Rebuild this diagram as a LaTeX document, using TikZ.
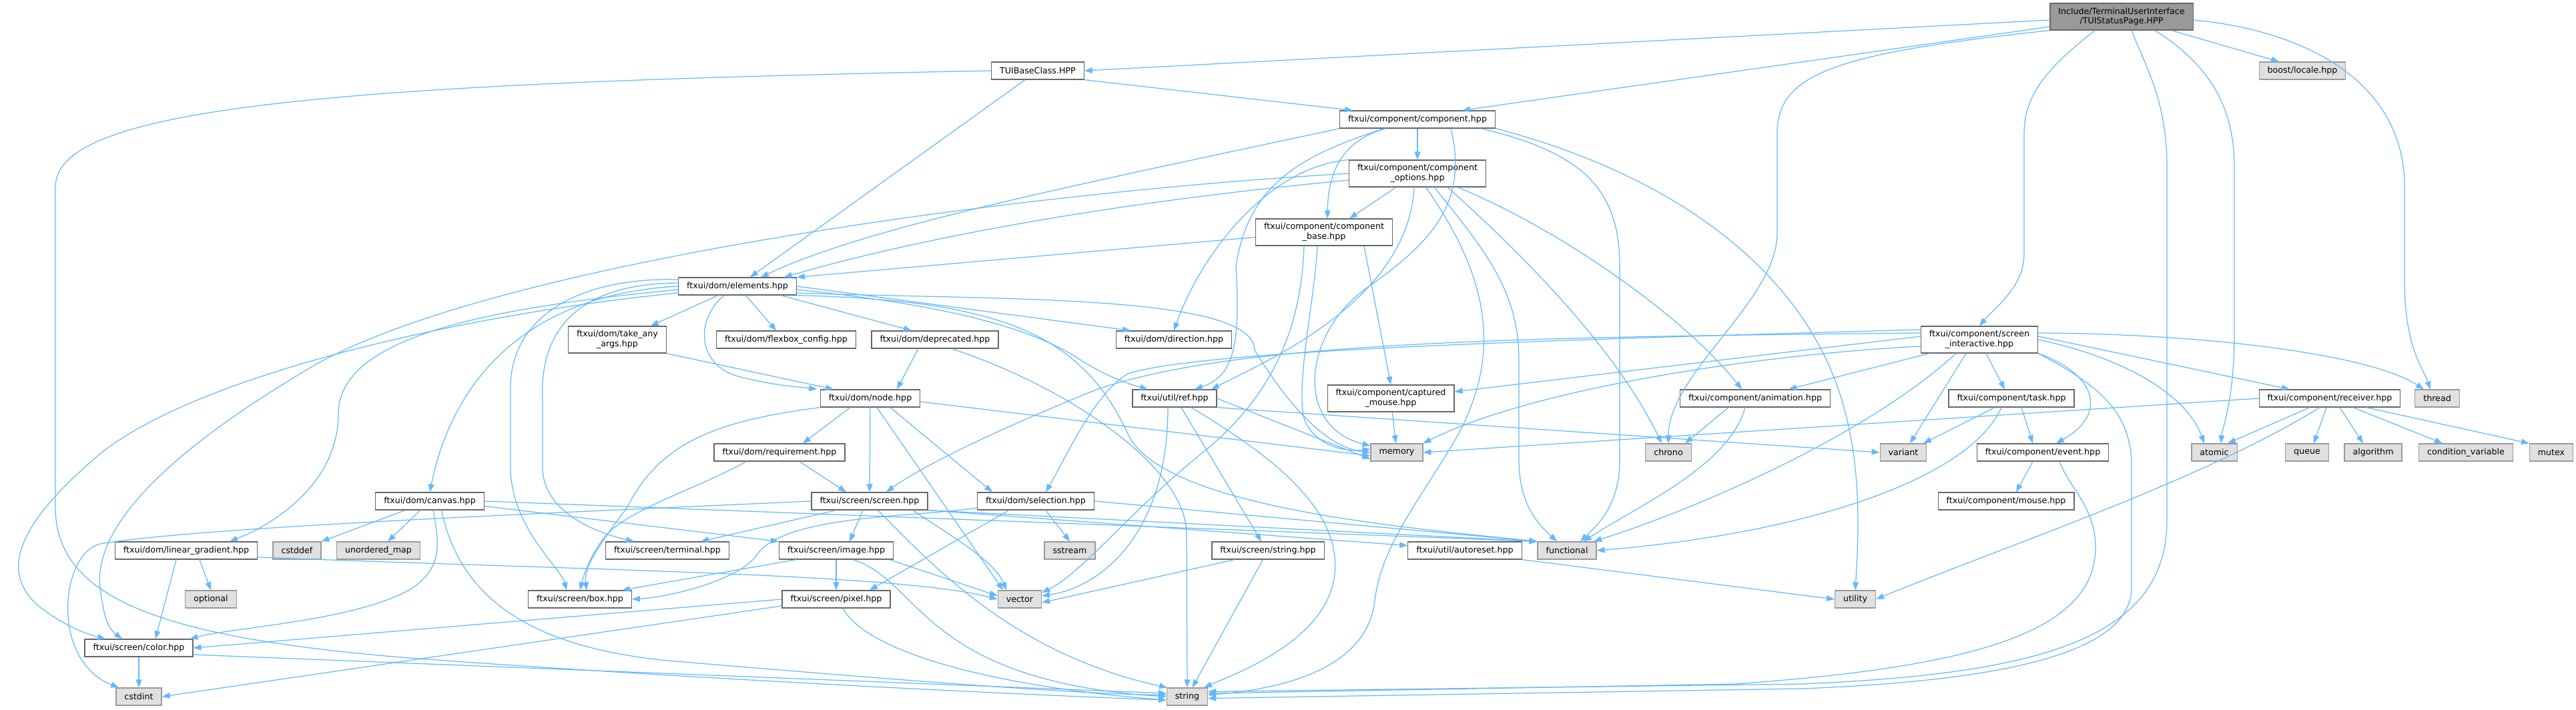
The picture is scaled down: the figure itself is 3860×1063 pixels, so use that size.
\documentclass[tikz,border=0pt]{standalone}
\usepackage{fontspec}
\setmainfont{DejaVu Sans}
\usepackage{xcolor}
\usetikzlibrary{arrows.meta}

\definecolor{edgeblue}{HTML}{63B8FF}
\definecolor{nodeborder}{HTML}{666666}
\definecolor{sysborder}{HTML}{999999}
\definecolor{sysfill}{HTML}{E0E0E0}
\definecolor{rootfill}{HTML}{999999}

\begin{document}
\begin{tikzpicture}[
    x=0.02cm, y=-0.02cm,
    hdr/.style={draw=nodeborder, fill=white, line width=0.7pt, font=\fontsize{7.2pt}{8.5pt}\selectfont, inner xsep=0.25cm, inner ysep=0pt, minimum height=0.52cm, align=center},
    syshdr/.style={hdr, draw=sysborder, fill=sysfill},
    roothdr/.style={hdr, fill=rootfill},
    tall/.style={minimum height=0.8cm},
    dep/.style={draw=edgeblue, line width=0.7pt, -{Triangle[length=6.8pt, width=5pt]}}
]
    \useasboundingbox (0,0) rectangle (3860,1063);

    % Root and project headers
    \node[roothdr, tall] (root) at (3179,25) {Include/TerminalUserInterface\\/TUIStatusPage.HPP};
    \node[hdr] (tuibase) at (1555,106) {TUIBaseClass.HPP};
    \node[syshdr] (locale) at (3450,106) {boost/locale.hpp};

    % ftxui headers
    \node[hdr] (component) at (2124,179) {ftxui/component/component.hpp};
    \node[hdr, tall] (options) at (2124,260) {ftxui/component/component\\\_options.hpp};
    \node[hdr, tall] (base) at (1984,348) {ftxui/component/component\\\_base.hpp};
    \node[hdr] (elements) at (1105,429) {ftxui/dom/elements.hpp};
    \node[hdr, tall] (scrint) at (2966,509) {ftxui/component/screen\\\_interactive.hpp};
    \node[hdr, tall] (takeany) at (925,509) {ftxui/dom/take\_any\\\_args.hpp};
    \node[hdr] (flexbox) at (1178,509) {ftxui/dom/flexbox\_config.hpp};
    \node[hdr] (deprecated) at (1401,509) {ftxui/dom/deprecated.hpp};
    \node[hdr] (direction) at (1759,509) {ftxui/dom/direction.hpp};
    \node[hdr, tall] (captured) at (2084,597) {ftxui/component/captured\\\_mouse.hpp};
    \node[hdr] (node) at (1304,597) {ftxui/dom/node.hpp};
    \node[hdr] (ref) at (1760,597) {ftxui/util/ref.hpp};
    \node[hdr] (animation) at (2630,597) {ftxui/component/animation.hpp};
    \node[hdr] (task) at (3014,597) {ftxui/component/task.hpp};
    \node[hdr] (receiver) at (3491,597) {ftxui/component/receiver.hpp};
    \node[hdr] (requirement) at (1168,678) {ftxui/dom/requirement.hpp};
    \node[hdr] (event) at (3061,678) {ftxui/component/event.hpp};
    \node[hdr] (canvas) at (644,751) {ftxui/dom/canvas.hpp};
    \node[hdr] (screen) at (1303,751) {ftxui/screen/screen.hpp};
    \node[hdr] (selection) at (1552,751) {ftxui/dom/selection.hpp};
    \node[hdr] (mouse) at (3006,751) {ftxui/component/mouse.hpp};
    \node[hdr] (lingrad) at (279,825) {ftxui/dom/linear\_gradient.hpp};
    \node[hdr] (terminal) at (1000,825) {ftxui/screen/terminal.hpp};
    \node[hdr] (image) at (1253,825) {ftxui/screen/image.hpp};
    \node[hdr] (strhpp) at (1900,825) {ftxui/screen/string.hpp};
    \node[hdr] (autoreset) at (2195,825) {ftxui/util/autoreset.hpp};
    \node[hdr] (scrbox) at (869,898) {ftxui/screen/box.hpp};
    \node[hdr] (pixel) at (1253,898) {ftxui/screen/pixel.hpp};
    \node[hdr] (color) at (208,971) {ftxui/screen/color.hpp};

    % System headers
    \node[syshdr] (thread) at (3652,597) {thread};
    \node[syshdr] (memory) at (2093,678) {memory};
    \node[syshdr] (chrono) at (2500,678) {chrono};
    \node[syshdr] (variant) at (2852,678) {variant};
    \node[syshdr] (atomic) at (3318,678) {atomic};
    \node[syshdr] (queue) at (3457,678) {queue};
    \node[syshdr] (algorithm) at (3556,678) {algorithm};
    \node[syshdr] (condvar) at (3695,678) {condition\_variable};
    \node[syshdr] (mutex) at (3823,678) {mutex};
    \node[syshdr] (cstddef) at (445,825) {cstddef};
    \node[syshdr] (unordmap) at (567,825) {unordered\_map};
    \node[syshdr] (sstream) at (1603,825) {sstream};
    \node[syshdr] (functional) at (2348,825) {functional};
    \node[syshdr] (optional) at (316,898) {optional};
    \node[syshdr] (vector) at (1528,898) {vector};
    \node[syshdr] (utility) at (2780,898) {utility};
    \node[syshdr] (cstdint) at (208,1044) {cstdint};
    \node[syshdr] (string) at (1779,1044) {string};

    % Includes of the root header
    \draw[dep] ([yshift=-0.1cm]root.west) -- (tuibase.east);
    \draw[dep] ([yshift=-0.3cm]root.west) -- ([xshift=-1cm]component.north east);
    \draw[dep] (root.south west) .. controls (2750,80) and (2663,110) .. (2663,200) -- (2663,350) .. controls (2663,450) and (2500,560) .. (chrono.north);
    \draw[dep] ([xshift=-0.8cm]root.south) .. controls (3070,100) and (3033,140) .. (3033,200) -- (3033,380) .. controls (3033,430) and (2990,460) .. (scrint.north);
    \draw[dep] ([xshift=0.3cm]root.south) .. controls (3215,100) and (3247,150) .. (3247,250) -- (3247,780) .. controls (3247,960) and (3050,1010) .. (2700,1025) -- ([yshift=0.15cm]string.east);
    \draw[dep] ([xshift=1cm]root.south) .. controls (3300,90) and (3348,150) .. (3348,250) -- (3348,500) .. controls (3348,600) and (3330,640) .. ([xshift=0.2cm]atomic.north);
    \draw[dep] ([xshift=1.5cm]root.south) -- ([xshift=-0.7cm]locale.north);
    \draw[dep] ([yshift=-0.1cm]root.east) .. controls (3450,45) and (3603,120) .. (3603,280) -- (3603,420) .. controls (3603,520) and (3630,550) .. ([xshift=-0.2cm]thread.north);

    % TUIBaseClass
    \draw[dep] (tuibase.west) .. controls (500,125) and (83,160) .. (83,280) -- (83,760) .. controls (83,900) and (250,955) .. (600,985) .. controls (1000,1015) and (1500,1040) .. ([yshift=-0.1cm]string.west);
    \draw[dep] (tuibase) -- (elements);
    \draw[dep] (tuibase.south east) -- ([xshift=0.4cm]component.north west);

    % component.hpp
    \draw[dep] (component) -- (options);
    \draw[dep] ([xshift=-0.94cm]component.south) .. controls (2010,210) and (1990,260) .. ([xshift=0.1cm]base.north);
    \draw[dep] (component.south west) .. controls (1600,280) and (1300,340) .. ([xshift=0.7cm]elements.north);
    \draw[dep] ([xshift=-1cm]component.south) .. controls (1960,230) and (1870,270) .. (1852,400) .. controls (1860,525) and (1845,565) .. ([xshift=0.6cm]ref.north);
    \draw[dep] ([xshift=1.9cm]component.south) .. controls (2380,230) and (2427,290) .. (2427,400) -- (2427,690) .. controls (2427,760) and (2390,790) .. ([xshift=0.4cm]functional.north);
    \draw[dep] (component.south east) .. controls (2500,260) and (2700,400) .. (2760,600) .. controls (2790,700) and (2785,800) .. (utility.north);
    \draw[dep] ([xshift=1cm]component.south) .. controls (2200,300) and (2150,360) .. (2050,430) .. controls (1950,500) and (1940,640) .. ([yshift=0.2cm]memory.west);

    % component_options.hpp
    \draw[dep] ([xshift=-0.64cm]options.south) -- ([xshift=0.76cm]base.north);
    \draw[dep] ([yshift=-0.2cm]options.west) .. controls (1700,300) and (1400,350) .. ([xshift=1.4cm]elements.north);
    \draw[dep] (options.west) .. controls (1500,290) and (700,400) .. (450,560) .. controls (250,680) and (140,790) .. (150,880) .. controls (155,920) and (160,940) .. ([xshift=-0.5cm]color.north);
    \draw[dep] (options.north west) .. controls (1900,250) and (1800,380) .. (direction.north);
    \draw[dep] ([xshift=1.2cm]options.south) .. controls (2330,340) and (2520,470) .. ([xshift=-0.4cm]animation.north);
    \draw[dep] ([xshift=0.9cm]options.south) .. controls (2280,380) and (2420,520) .. ([xshift=-0.2cm]chrono.north);
    \draw[dep] ([xshift=0.5cm]options.south) .. controls (2230,380) and (2276,440) .. (2276,540) -- (2276,690) .. controls (2276,760) and (2310,790) .. ([xshift=-0.3cm]functional.north);
    \draw[dep] ([xshift=0.25cm]options.south) .. controls (2220,400) and (2260,520) .. (2180,660) .. controls (2120,760) and (2070,820) .. (2060,900) .. controls (2050,990) and (1950,1030) .. ([yshift=0.05cm]string.east);
    \draw[dep] ([xshift=-0.1cm]options.south) .. controls (2110,450) and (1900,540) .. ([xshift=1.1cm]ref.north);

    % component_base.hpp
    \draw[dep] ([yshift=-0.15cm]base.west) -- (elements.north east);
    \draw[dep] ([xshift=1.2cm]base.south) -- (captured.north);
    \draw[dep] ([xshift=-0.2cm]base.south) .. controls (1970,450) and (1940,580) .. (1955,630) .. controls (1970,665) and (2010,678) .. ([yshift=0.1cm]memory.west);
    \draw[dep] ([xshift=-0.6cm]base.south) .. controls (1950,500) and (1900,600) .. (1800,680) .. controls (1700,760) and (1620,860) .. ([yshift=0.2cm]vector.east);
    \draw[dep] (captured) -- (memory);

    % elements.hpp
    \draw[dep] ([xshift=1.2cm]elements.south west) -- ([xshift=1cm]takeany.north);
    \draw[dep] (elements.west) .. controls (800,440) and (680,560) .. (canvas.north);
    \draw[dep] ([yshift=-0.1cm]elements.west) .. controls (750,460) and (507,500) .. (507,620) .. controls (507,730) and (400,790) .. ([xshift=1.3cm]lingrad.north);
    \draw[dep] ([yshift=-0.2cm]elements.west) .. controls (700,470) and (300,560) .. (150,680) .. controls (20,790) and (0,860) .. (60,910) .. controls (100,940) and (130,950) .. ([xshift=-1cm]color.north);
    \draw[dep] ([yshift=0.2cm]elements.west) .. controls (860,415) and (765,480) .. (765,580) -- (765,700) .. controls (765,790) and (840,850) .. ([xshift=-0.4cm]scrbox.north);
    \draw[dep] ([yshift=0.1cm]elements.west) .. controls (860,425) and (808,500) .. (813,600) -- (813,700) .. controls (813,770) and (900,800) .. ([xshift=-1cm]terminal.north);
    \draw[dep] ([xshift=-0.4cm]elements.south) .. controls (1040,480) and (1045,550) .. (1110,565) .. controls (1160,578) and (1200,580) .. ([xshift=-1.6cm]node.north);
    \draw[dep] ([xshift=0.25cm]elements.south) -- ([xshift=-0.3cm]flexbox.north);
    \draw[dep] ([xshift=1.3cm]elements.south) -- ([xshift=-0.7cm]deprecated.north);
    \draw[dep] (elements.east) -- ([xshift=-1.3cm]direction.north);
    \draw[dep] ([yshift=-0.1cm]elements.east) .. controls (1450,460) and (1560,500) .. (1620,540) .. controls (1660,565) and (1690,575) .. ([xshift=-0.8cm]ref.north);
    \draw[dep] ([yshift=-0.2cm]elements.east) .. controls (1500,450) and (1880,440) .. (1880,525) .. controls (1920,590) and (1980,670) .. (memory.west);
    \draw[dep] (elements.south east) .. controls (1500,450) and (1620,500) .. (1690,650) .. controls (1740,760) and (2100,790) .. (functional.north west);

    % dom headers
    \draw[dep] (takeany.south east) -- ([xshift=-1.1cm]node.north);
    \draw[dep] ([xshift=-0.5cm]deprecated.south) -- ([xshift=0.8cm]node.north);
    \draw[dep] ([xshift=0.5cm]deprecated.south) .. controls (1600,580) and (1778,700) .. (1778,800) -- (string.north);
    \draw[dep] (node.south west) .. controls (1080,630) and (990,660) .. (940,760) .. controls (895,820) and (875,850) .. ([xshift=0.2cm]scrbox.north);
    \draw[dep] ([xshift=-0.6cm]node.south) -- ([xshift=0.7cm]requirement.north);
    \draw[dep] (node) -- (screen);
    \draw[dep] ([xshift=0.2cm]node.south) -- ([xshift=-0.5cm]vector.north);
    \draw[dep] ([xshift=0.6cm]node.south) -- ([xshift=-1.3cm]selection.north);
    \draw[dep] ([yshift=-0.1cm]node.east) -- ([yshift=-0.1cm]memory.west);
    \draw[dep] ([xshift=-1cm]requirement.south) .. controls (1050,730) and (950,760) .. (910,800) .. controls (885,830) and (875,860) .. (scrbox.north);
    \draw[dep] ([xshift=0.6cm]requirement.south) -- ([xshift=-0.7cm]screen.north);
    \draw[dep] ([yshift=-0.2cm]selection.west) .. controls (1380,775) and (1180,770) .. (1135,830) .. controls (1110,870) and (1000,895) .. (scrbox.east);
    \draw[dep] ([xshift=-0.8cm]selection.south) -- ([xshift=1cm]pixel.north);
    \draw[dep] ([xshift=0.3cm]selection.south) -- (sstream.north);
    \draw[dep] (selection.east) -- (functional.north west);
    \draw[dep] (canvas) -- (cstddef);
    \draw[dep] (canvas) -- (unordmap);
    \draw[dep] ([xshift=0.1cm]canvas.south) .. controls (660,820) and (660,850) .. (620,880) .. controls (540,930) and (350,940) .. ([xshift=-0.1cm]color.north east);
    \draw[dep] ([xshift=0.35cm]canvas.south) .. controls (690,900) and (800,970) .. (1000,990) .. controls (1300,1015) and (1600,1040) .. ([yshift=0.05cm]string.west);
    \draw[dep] (canvas.east) -- (functional.north west);
    \draw[dep] ([yshift=-0.15cm]canvas.east) -- (image.north west);
    \draw[dep] ([xshift=0.4cm]lingrad.south) -- (optional.north);
    \draw[dep] ([xshift=-0.3cm]lingrad.south) -- ([xshift=0.5cm]color.north);
    \draw[dep] ([yshift=-0.2cm]lingrad.east) .. controls (900,855) and (1350,860) .. (vector.west);

    % screen headers
    \draw[dep] (screen.west) .. controls (800,770) and (300,790) .. (150,815) .. controls (90,830) and (75,990) .. ([xshift=-0.6cm]cstdint.north);
    \draw[dep] ([xshift=-1cm]screen.south) -- ([xshift=1cm]terminal.north);
    \draw[dep] ([xshift=-0.2cm]screen.south) -- ([xshift=0.4cm]image.north);
    \draw[dep] ([xshift=0.25cm]screen.south) .. controls (1400,850) and (1520,980) .. ([xshift=-0.6cm]string.north);
    \draw[dep] ([xshift=1.3cm]screen.south) .. controls (1420,800) and (1490,840) .. ([xshift=-0.4cm]vector.north);
    \draw[dep] (screen.south east) -- (functional.north west);
    \draw[dep] (screen.south east) -- ([yshift=0.15cm]autoreset.west);
    \draw[dep] ([xshift=-1.2cm]image.south) -- ([xshift=-0.3cm]scrbox.north east);
    \draw[dep] (image) -- (pixel);
    \draw[dep] ([xshift=0.5cm]image.south) .. controls (1380,870) and (1380,1020) .. (string.west);
    \draw[dep] ([xshift=1.6cm]image.south) -- ([yshift=0.1cm]vector.west);
    \draw[dep] (pixel.west) -- (color.east);
    \draw[dep] ([yshift=-0.2cm]pixel.west) -- (cstdint.east);
    \draw[dep] ([xshift=0.2cm]pixel.south) .. controls (1300,980) and (1500,1030) .. ([yshift=-0.1cm]string.west);
    \draw[dep] (color) -- (cstdint);
    \draw[dep] ([yshift=-0.2cm]color.east) -- ([yshift=0.1cm]string.west);

    % util headers
    \draw[dep] ([xshift=0.2cm]ref.south) -- ([xshift=-0.2cm]strhpp.north);
    \draw[dep] ([xshift=-0.2cm]ref.south) .. controls (1750,800) and (1650,880) .. ([yshift=0.1cm]vector.east);
    \draw[dep] ([xshift=0.5cm]ref.south) .. controls (1900,680) and (2010,760) .. (2000,860) .. controls (1990,960) and (1850,1010) .. ([xshift=0.5cm]string.north);
    \draw[dep] (ref.south east) -- (variant.west);
    \draw[dep] (ref.east) -- ([yshift=-0.2cm]memory.west);
    \draw[dep] ([xshift=-1cm]strhpp.south) -- ([yshift=-0.1cm]vector.east);
    \draw[dep] (strhpp) -- (string);
    \draw[dep] (autoreset.south east) -- (utility.west);

    % component headers
    \draw[dep] ([xshift=-0.8cm]animation.south) -- ([xshift=0.5cm]chrono.north);
    \draw[dep] ([xshift=-0.3cm]animation.south) .. controls (2590,700) and (2450,760) .. ([xshift=0.5cm]functional.north);
    \draw[dep] ([xshift=0.2cm]scrint.south) -- ([xshift=-0.2cm]task.north);
    \draw[dep] (scrint.south east) .. controls (3140,560) and (3160,620) .. ([xshift=0.4cm]event.north);
    \draw[dep] (scrint.south east) .. controls (3150,580) and (3194,620) .. (3194,700) -- (3194,880) .. controls (3194,980) and (3000,1020) .. (2700,1032) -- ([yshift=-0.05cm]string.east);
    \draw[dep] (scrint.east) .. controls (3200,540) and (3280,600) .. ([xshift=-0.3cm]atomic.north);
    \draw[dep] ([yshift=0.1cm]scrint.east) -- ([xshift=-1.2cm]receiver.north);
    \draw[dep] ([yshift=0.2cm]scrint.east) .. controls (3300,500) and (3550,530) .. ([xshift=-0.4cm]thread.north);
    \draw[dep] ([xshift=-0.4cm]scrint.south) -- ([xshift=0.2cm]variant.north);
    \draw[dep] ([xshift=-0.7cm]scrint.south) .. controls (2800,650) and (2550,760) .. ([xshift=0.8cm]functional.north);
    \draw[dep] ([xshift=-1.5cm]scrint.south) -- ([xshift=1cm]animation.north);
    \draw[dep] ([yshift=-0.2cm]scrint.west) .. controls (2650,530) and (2300,580) .. (memory.north east);
    \draw[dep] ([yshift=0.1cm]scrint.west) -- ([yshift=0.2cm]captured.east);
    \draw[dep] ([yshift=0.2cm]scrint.west) .. controls (2300,505) and (1850,510) .. (1640,585) .. controls (1480,650) and (1380,700) .. ([xshift=0.5cm]screen.north);
    \draw[dep] ([yshift=0.3cm]scrint.west) .. controls (2300,510) and (1800,525) .. (1690,560) .. controls (1640,590) and (1600,680) .. ([xshift=0.3cm]selection.north);
    \draw[dep] (receiver.west) -- (memory.east);
    \draw[dep] ([xshift=-0.6cm]receiver.south) -- ([xshift=0.4cm]atomic.north);
    \draw[dep] ([xshift=-0.1cm]receiver.south) -- ([xshift=0.2cm]queue.north);
    \draw[dep] ([xshift=0.3cm]receiver.south) -- ([xshift=-0.3cm]algorithm.north);
    \draw[dep] ([xshift=0.7cm]receiver.south) -- ([xshift=-0.7cm]condvar.north);
    \draw[dep] ([xshift=1.1cm]receiver.south) -- (mutex.north west);
    \draw[dep] ([xshift=-0.3cm]receiver.south) .. controls (3300,720) and (3000,820) .. (utility.east);
    \draw[dep] ([xshift=0.3cm]task.south) -- ([xshift=-0.3cm]event.north);
    \draw[dep] ([xshift=-0.5cm]task.south) -- ([xshift=0.6cm]variant.north);
    \draw[dep] ([xshift=-0.3cm]task.south) .. controls (2950,720) and (2700,800) .. (functional.east);
    \draw[dep] ([xshift=-0.3cm]event.south) -- ([xshift=0.3cm]mouse.north);
    \draw[dep] ([xshift=0.5cm]event.south) .. controls (3100,730) and (3140,760) .. (3140,820) .. controls (3140,950) and (2950,1000) .. (2600,1025) -- ([yshift=0.1cm]string.east);

\end{tikzpicture}
\end{document}
